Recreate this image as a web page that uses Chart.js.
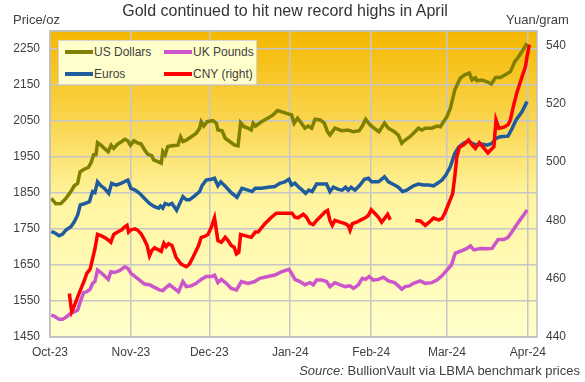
<!DOCTYPE html>
<html>
<head>
<meta charset="utf-8">
<script src="https://cdn.jsdelivr.net/npm/chart.js@4/dist/chart.umd.min.js"></script>
<style>
    body { margin: 0; background: #fff; }
    #wrap { position: relative; width: 585px; height: 382px; font-family: "Liberation Sans", Arial, sans-serif; color: #404040; }
    #chart { position: absolute; left: 0; top: 0; }
    .txt { position: absolute; white-space: nowrap; }
    #title { left: 0; width: 570px; top: 2px; text-align: center; font-size: 16px; color: #333; }
    #unitLeft { left: 13px; top: 12px; font-size: 13px; }
    #unitRight { left: 506px; top: 12px; font-size: 13px; }
    #source { right: 5px; top: 363px; font-size: 13px; }
    #legend { position: absolute; left: 58px; top: 40px; width: 197px; height: 43px; background: #FFFFCC; border: 1px solid #D4D4D4; font-size: 12px; }
    .item { position: absolute; height: 14px; line-height: 14px; white-space: nowrap; }
    .swatch { position: absolute; left: 0; top: 5px; width: 28px; height: 4px; }
    .label { position: absolute; left: 29px; top: 0; white-space: nowrap; }
</style>
</head>
<body>
<div id="wrap">
    <canvas id="chart" width="585" height="382"></canvas>
    <div class="txt" id="title">Gold continued to hit new record highs in April</div>
    <div class="txt" id="unitLeft">Price/oz</div>
    <div class="txt" id="unitRight">Yuan/gram</div>
    <div id="legend"></div>
    <div class="txt" id="source"><i>Source:</i> BullionVault via LBMA benchmark prices</div>
</div>
<script>
// Days counted from 1 Oct 2023
const monthDays = [0, 31, 61, 92, 123, 152, 183];
const monthLabels = ['Oct-23', 'Nov-23', 'Dec-23', 'Jan-24', 'Feb-24', 'Mar-24', 'Apr-24'];
const leftTicks = [1450, 1550, 1650, 1750, 1850, 1950, 2050, 2150, 2250];
const rightTicks = [440, 460, 480, 500, 520, 540];

// US Dollars per oz
const usdDays = [0.5, 2.2, 4.2, 6.1, 8, 9.3, 10.6, 11.5, 13.1, 14.7, 15.7, 16.7, 17.6, 18.2, 19.5, 20.8, 22.3, 23.4, 24.4, 25.9, 27.5, 28.7, 29.8, 30.8, 32.1, 33.3, 34.9, 36.2, 37.4, 39, 39.7, 41.3, 42.6, 43.2, 44.1, 45.1, 46.7,
    49, 50, 50.9, 52.2, 54.1, 56, 57.3, 57.9, 58.9, 60.2, 62.4, 63.7, 64.3, 65.9, 67.1, 68.8, 70.7, 72, 73, 74.3, 75.8, 77.1, 77.8, 78.7, 81, 83.5, 85.4, 87.1, 88.6, 90.6,
    92.5, 93.5, 94.8, 96.3, 97.6, 98.9, 100.2, 101.5, 103.4, 105, 106.3, 107.2, 109.1, 111.7, 114.2, 116.2, 118.4, 119.6, 120.9, 122.6, 124.7, 126, 128.1, 129.6, 131.9, 133.4, 134.7, 136, 137.6, 139.2,
    141.1, 142.4, 143.7, 146.2, 148.2, 149.5, 150.7, 152, 153.3, 155, 157.1, 158.8, 160.6, 161.6, 162.9, 163.5, 165.4, 167.4, 169, 170.6, 172.5, 175, 176.3, 178, 179.5, 181.1, 182.7];
const usdPrice = [1835, 1820, 1821, 1835, 1854, 1870, 1877, 1909, 1916, 1921, 1934, 1956, 1956, 1990, 1983, 1974, 1965, 1983, 1974, 1986, 1993, 1999, 1995, 1983, 1995, 1990, 1986, 1970, 1958, 1953, 1942, 1937, 1933, 1965, 1956, 1979, 1981,
    1983, 2006, 1993, 1997, 2006, 2016, 2030, 2048, 2036, 2048, 2051, 2044, 2025, 2023, 2002, 1993, 1983, 1981, 2045, 2034, 2030, 2025, 2044, 2036, 2048, 2058, 2067, 2079, 2076, 2071,
    2067, 2044, 2058, 2044, 2030, 2036, 2030, 2055, 2053, 2045, 2020, 2011, 2030, 2023, 2025, 2020, 2023, 2036, 2055, 2039, 2027, 2020, 2044, 2030, 2020, 2011, 1988, 1997, 2005, 2016,
    2030, 2025, 2030, 2030, 2036, 2034, 2048, 2062, 2085, 2136, 2169, 2178, 2183, 2164, 2170, 2162, 2164, 2159, 2153, 2171, 2171, 2181, 2187, 2215, 2229, 2247, 2266];

// Euros per oz
const eurDays = [0.5, 1.6, 3.5, 4.8, 6.1, 8, 9.3, 10.6, 11.6, 13.1, 15.1, 16.3, 17.2, 18.2, 19.5, 20.8, 22.5, 23.6, 25.3, 27.2, 29.8, 31, 32.6, 34.3, 36.2, 38.1, 40, 41.6, 42.3, 43.2, 44.1, 45.4, 46.7,
    48.5, 50.9, 52.2, 53.4, 55.4, 57.3, 58.2, 59.8, 61.8, 63, 64.3, 65.4, 67.5, 69.4, 71.6, 73.5, 75.8, 77.4, 78.6, 81, 83.5, 86.1, 88, 89.9, 91.5,
    92.5, 93.8, 95, 96.6, 97.9, 99.1, 100.4, 102.1, 104, 105.9, 107.2, 108.5, 110.4, 111.9, 113.2, 114.2, 115.3, 116.8, 118.7, 120.4, 121.9, 123.2, 125.8, 128.1, 129.6, 131.9, 133.4, 135, 136.6,
    139.2, 141.1, 143, 145, 146.9, 148.8, 150.1, 151.6, 153.3, 155, 156.5, 158.4, 160.3, 161.6, 163.5, 165.4, 167.4, 169.3, 170.8, 172.5, 175.4, 177, 178.5, 180.8, 182.7];
const eurPrice = [1743, 1740, 1731, 1736, 1747, 1756, 1770, 1789, 1817, 1820, 1826, 1854, 1851, 1881, 1870, 1863, 1849, 1877, 1872, 1877, 1886, 1863, 1858, 1849, 1835, 1821, 1812, 1808, 1814, 1808, 1821, 1817, 1821,
    1802, 1840, 1831, 1831, 1842, 1854, 1870, 1886, 1888, 1891, 1870, 1881, 1866, 1851, 1838, 1863, 1858, 1854, 1863, 1863, 1866, 1868, 1877, 1881, 1888,
    1872, 1877, 1868, 1858, 1849, 1858, 1854, 1875, 1875, 1875, 1854, 1866, 1860, 1858, 1866, 1858, 1866, 1858, 1872, 1888, 1891, 1881, 1881, 1895, 1881, 1872, 1866, 1854, 1858,
    1870, 1875, 1872, 1872, 1870, 1879, 1886, 1900, 1923, 1960, 1977, 1988, 1995, 1988, 1983, 1986, 1983, 1988, 2002, 2006, 2008, 2030, 2053, 2076, 2104];

// UK Pounds per oz
const gbpDays = [0.5, 1.6, 3.5, 4.8, 6.1, 8, 9.3, 10.6, 11.6, 12.9, 14.1, 15.4, 16.3, 17.2, 18.2, 19.5, 20.8, 22.3, 23.3, 24.6, 26.6, 28.7, 29.8, 31, 32.6, 34.3, 36.2, 38.1, 40, 41.9, 43.2, 44.5, 45.8, 46.7,
    49.2, 50.9, 52.2, 54.1, 56, 57.9, 59.8, 61.8, 63, 64.3, 65.6, 67.5, 69.4, 71.4, 73.3, 75.8, 78.4, 80.3, 83.5, 86.1, 88.6, 91.5,
    92.5, 93.8, 95.7, 97.6, 99.5, 100.8, 102.1, 104, 105.9, 107.2, 109.1, 111.1, 113, 114.9, 116.2, 118.1, 119.6, 120.9, 122.2, 123.8, 125.8, 127.7, 129.6, 131.9, 133.4, 134.7, 136, 137.6,
    139.2, 141.8, 143.7, 146.2, 148.2, 150.1, 152, 153.7, 155.2, 157.8, 159.7, 161, 162.3, 164.8, 167.4, 169.3, 171.6, 173.8, 175.4, 177, 178.9, 180.8, 182.7];
const gbpPrice = [1511, 1508, 1499, 1499, 1505, 1516, 1520, 1525, 1548, 1573, 1576, 1583, 1599, 1604, 1636, 1629, 1620, 1610, 1631, 1629, 1634, 1645, 1641, 1627, 1618, 1608, 1597, 1595, 1588, 1581, 1579, 1588, 1595, 1590,
    1576, 1604, 1590, 1592, 1599, 1610, 1618, 1618, 1622, 1601, 1610, 1599, 1585, 1581, 1604, 1599, 1604, 1613, 1618, 1622, 1631, 1638,
    1627, 1610, 1604, 1595, 1601, 1595, 1608, 1608, 1604, 1590, 1601, 1595, 1590, 1592, 1585, 1595, 1613, 1610, 1618, 1608, 1610, 1616, 1606, 1601, 1592, 1583, 1590, 1592,
    1599, 1606, 1599, 1601, 1608, 1620, 1636, 1650, 1683, 1690, 1696, 1703, 1692, 1696, 1695, 1696, 1721, 1721, 1727, 1743, 1764, 1783, 1803];

// Chinese Yuan per gram (right axis), null = market closed
const cnyDays = [7.4, 8.3, 9.3, 10.6, 11.8, 13.1, 14.1, 15.4, 16.3, 17.2, 18.2, 19.5, 20.8, 22.3, 23.3, 24.4, 25.9, 27.5, 28.5, 29.5, 30.1, 31, 32.6, 33.6, 34.9, 36.2, 37.2, 38.1, 39, 40, 41.6, 42.6, 43.6, 44.5, 45.4, 46.7,
    48.3, 50.2, 52.2, 53.4, 54.7, 56, 56.9, 57.9, 59.2, 60.5, 61.8, 63, 64.3, 65.6, 67.1, 68.2, 69.4, 70.5, 71.4, 72.3, 73, 74.6, 77.1, 78.6, 79.7, 82.3, 84.8, 86.7, 89.3, 91.2,
    92.7, 93.8, 95, 97, 98.2, 99.5, 100.8, 102.1, 104, 105.3, 106.3, 107.2, 108.1, 109.1, 111.1, 113, 114.2, 114.9, 115.8, 117.4, 119.1, 120.7, 121.9, 123, 124.5, 125.8, 127, 128.3, 129.3, 130.3,
    135,
    139.9, 141.8, 143.7, 145.2, 146.9, 148.8, 150.1, 151.4, 152.9, 154.2, 155, 155.8, 156.8, 158.4, 160.3, 161.6, 162.9, 164.4, 165.7, 167.7, 169.3, 170, 170.8, 171.9, 173.8, 175.4, 176.3, 177.6, 178.9, 180.6, 182.1, 182.7, 183.6];
const cnyPrice = [454.9, 448.7, 450.7, 453.8, 456.4, 459.3, 461.8, 463.3, 466.8, 470.2, 475.2, 474.8, 474.2, 473.3, 472.5, 475.2, 476, 476.8, 477.7, 478.3, 476, 476.8, 477.1, 476.6, 475.4, 473.3, 471.4, 467.9, 469.7, 470.6, 469.9, 469.4, 472.2, 471, 472, 471.4,
    467.3, 465, 464.1, 465, 467.3, 469.7, 471.4, 474.2, 474.5, 475.2, 477.7, 480.9, 473.1, 472.5, 474.2, 473.1, 471.4, 470.8, 468.5, 469.1, 475.2, 474.8, 474.2, 476, 476, 478.9, 481.1, 482.5, 482.5, 482.5,
    482.5, 481.1, 480.9, 482.1, 481.1, 479.1, 478.6, 480, 481.7, 482.9, 483.4, 480, 478.3, 480, 479.4, 478.9, 478.3, 476.6, 478.9, 479.4, 480.2, 480.9, 481.7, 483.7, 482.3, 481.1, 479.4, 480.9, 482.1, 480.2,
    null,
    480, 479.8, 478.3, 479.4, 480.8, 480.2, 480.6, 482.9, 486.3, 489.2, 494.9, 501.8, 505.1, 505.9, 507.6, 505.9, 504.7, 506.7, 505.3, 503.2, 504.7, 505.3, 514.5, 511.6, 512, 512.8, 514.5, 519.7, 524.2, 528.9, 532.9, 536.3, 540.3];

const fontFamily = '"Liberation Sans", Arial, sans-serif';
const gridColor = '#C6C6C6';
const textColor = '#404040';

const seriesInfo = [
    { label: 'CNY (right)', days: cnyDays, values: cnyPrice, color: '#FF0000', axis: 'y1' },
    { label: 'Euros', days: eurDays, values: eurPrice, color: '#1F5C9E', axis: 'y' },
    { label: 'UK Pounds', days: gbpDays, values: gbpPrice, color: '#CC55CC', axis: 'y' },
    { label: 'US Dollars', days: usdDays, values: usdPrice, color: '#7F7F00', axis: 'y' }
];

function toPoints(days, values) {
    return days.map((d, i) => ({ x: d, y: values[i] }));
}

// Legend in the order of the original
const legendItems = [
    { name: 'US Dollars', color: '#7F7F00', left: 6, top: 4 },
    { name: 'UK Pounds', color: '#CC55CC', left: 105, top: 4 },
    { name: 'Euros', color: '#1F5C9E', left: 6, top: 26 },
    { name: 'CNY (right)', color: '#FF0000', left: 105, top: 26 }
];
const legendBox = document.getElementById('legend');
legendItems.forEach(item => {
    const el = document.createElement('div');
    el.className = 'item';
    el.style.left = item.left + 'px';
    el.style.top = item.top + 'px';
    el.innerHTML = `<div class="swatch" style="background:${item.color}"></div><div class="label">${item.name}</div>`;
    legendBox.appendChild(el);
});

// Gold gradient behind the plot, and a frame round it
const plotBackground = {
    id: 'plotBackground',
    beforeDraw(chart) {
        const { ctx, chartArea } = chart;
        const g = ctx.createLinearGradient(0, chartArea.top, 0, chartArea.bottom);
        g.addColorStop(0, '#F5B700');
        g.addColorStop(0.3, '#FAD650');
        g.addColorStop(0.55, '#FFF5A0');
        g.addColorStop(1, '#FFFFCC');
        ctx.save();
        ctx.fillStyle = g;
        ctx.fillRect(chartArea.left, chartArea.top, chartArea.right - chartArea.left, chartArea.bottom - chartArea.top);
        ctx.restore();
    },
    afterDraw(chart) {
        const { ctx, chartArea } = chart;
        ctx.save();
        ctx.strokeStyle = '#BFBFBF';
        ctx.lineWidth = 1.5;
        ctx.strokeRect(chartArea.left, chartArea.top, chartArea.right - chartArea.left, chartArea.bottom - chartArea.top);
        ctx.restore();
    }
};

new Chart(document.getElementById('chart').getContext('2d'), {
    type: 'line',
    data: {
        datasets: seriesInfo.map(s => ({
            label: s.label,
            data: toPoints(s.days, s.values),
            borderColor: s.color,
            backgroundColor: s.color,
            borderWidth: 3.5,
            pointRadius: 0,
            tension: 0,
            spanGaps: false,
            yAxisID: s.axis
        }))
    },
    options: {
        responsive: false,
        animation: false,
        devicePixelRatio: 1,
        layout: { padding: { top: 31, left: 0, right: 0, bottom: 0 } },
        plugins: {
            legend: { display: false },
            title: { display: false },
            tooltip: { enabled: false }
        },
        scales: {
            x: {
                type: 'linear',
                min: 0,
                max: 186.5,
                afterBuildTicks: axis => { axis.ticks = monthDays.map(v => ({ value: v })); },
                afterFit: axis => { axis.height = 45; },
                grid: { color: gridColor, lineWidth: 1.5, drawTicks: false },
                border: { display: false },
                ticks: {
                    autoSkip: false,
                    maxRotation: 0,
                    padding: 8,
                    color: textColor,
                    font: { family: fontFamily, size: 12 },
                    callback: v => monthLabels[monthDays.indexOf(v)]
                }
            },
            y: {
                position: 'left',
                min: 1450,
                max: 2300,
                afterBuildTicks: axis => { axis.ticks = leftTicks.concat([2300]).map(v => ({ value: v })); },
                afterFit: axis => { axis.width = 50; },
                grid: { color: gridColor, lineWidth: 1.5, drawTicks: false },
                border: { display: false },
                ticks: {
                    padding: 10,
                    color: textColor,
                    font: { family: fontFamily, size: 12 },
                    callback: v => (v > 2250 ? '' : v)
                }
            },
            y1: {
                position: 'right',
                min: 440,
                max: 545,
                afterBuildTicks: axis => { axis.ticks = rightTicks.map(v => ({ value: v })); },
                afterFit: axis => { axis.width = 48; },
                grid: { display: false, drawTicks: false },
                border: { display: false },
                ticks: {
                    padding: 9,
                    color: textColor,
                    font: { family: fontFamily, size: 12 }
                }
            }
        }
    },
    plugins: [plotBackground]
});
</script>
</body>
</html>
